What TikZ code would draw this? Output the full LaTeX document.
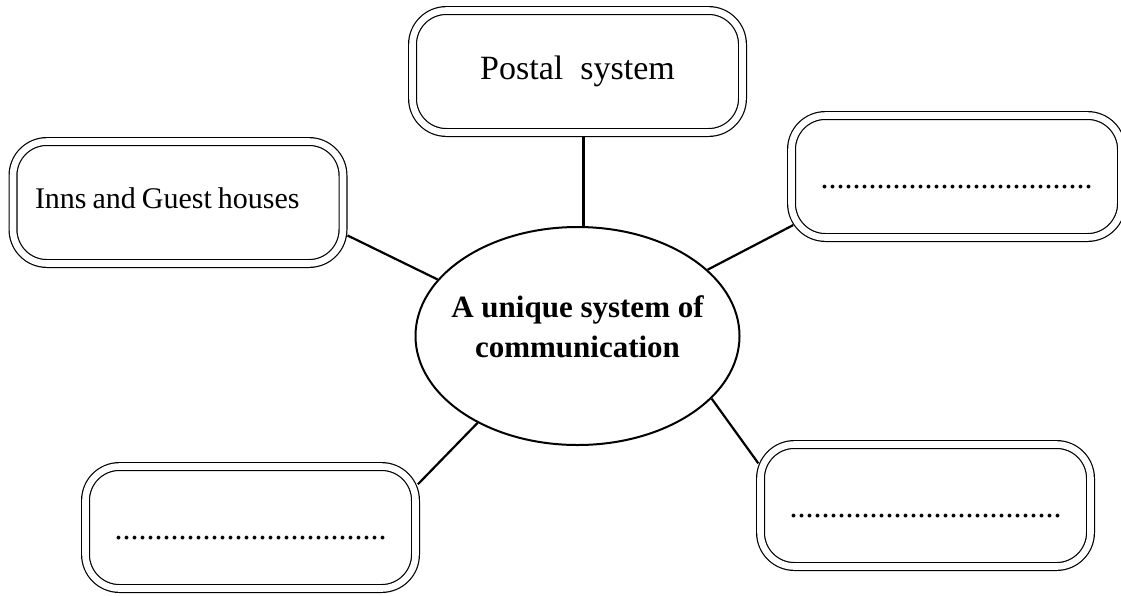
\documentclass[tikz,border=0pt]{standalone}
\usepackage{fontspec}
\setmainfont{Liberation Serif}
\usetikzlibrary{positioning,shapes.geometric}
\newcommand{\blankline}{..................................}

\begin{document}
\begin{tikzpicture}[x=1pt, y=-1pt,
  box/.style={draw, double, line width=1.2pt, double distance=6.6pt,
              rounded corners=34pt, minimum width=330pt, minimum height=122pt,
              outer sep=4.5pt, text height=23pt, text depth=8pt,
              font=\fontsize{34}{40}\selectfont},
  blank/.style={box, text depth=0pt, font=\fontsize{32}{38}\selectfont},
  hub/.style={draw, ellipse, line width=2pt, minimum width=324pt,
              minimum height=218pt, inner sep=0pt, align=center,
              text height=50pt, text depth=8pt,
              font=\fontsize{31}{40}\selectfont\bfseries},
  link/.style={line width=2.2pt}]
\useasboundingbox (0,0) rectangle (1121,595);
\node[hub] (centre) at (577.5,336)
  {\makebox[200pt]{A unique system of}\\\makebox[200pt]{communication}};
\node[box, above=89pt of centre] (postal) {Postal\ \ system};
\node[box, above left=68pt and 230pt of centre.center, text depth=11pt,
      text width=286pt, align=left, font=\fontsize{30}{36}\selectfont]
  (inns) {\spaceskip=6pt\relax Inns and Guest houses};
\node[blank, above right=94pt and 209.5pt of centre.center] (blankne) {\blankline};
\node[blank, below left=126pt and 157.5pt of centre.center] (blanksw) {\blankline};
\node[blank, below right=104pt and 178.5pt of centre.center] (blankse) {\blankline};
\draw[link] ([xshift=6pt]postal.south) -- ([xshift=6pt]centre.north);
\draw[link] (centre.158.5) -- (inns.-11);
\draw[link, shorten >=-7pt] (centre.27) -- (blankne.197);
\draw[link, shorten >=-3pt] (centre.221) -- (blanksw.15);
\draw[link, shorten >=-4pt] (centre.-25) -- (blankse.165);
\end{tikzpicture}
\end{document}
